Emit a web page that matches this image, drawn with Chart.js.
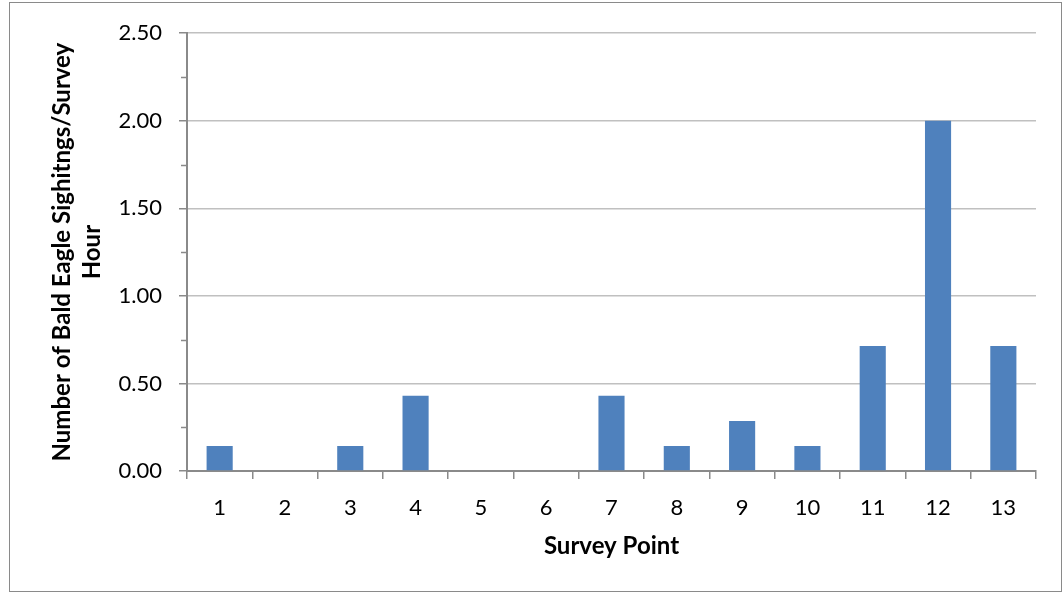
<!DOCTYPE html>
<html>
<head>
<meta charset="utf-8">
<script src="https://cdn.jsdelivr.net/npm/chart.js@4"></script>
<style>
  html, body { margin: 0; padding: 0; background: #fff; }
  #box {
    position: absolute; left: 9px; top: 2px;
    width: 1051px; height: 588px;
    border: 1.5px solid #8a8a8a;
  }
</style>
</head>
<body>
<div id="box"><canvas id="chart"></canvas></div>
<script>
  // Survey points and bald eagle sightings per survey hour
  const surveyPoints = ["1", "2", "3", "4", "5", "6", "7", "8", "9", "10", "11", "12", "13"];
  const sightingsPerHour = [0.143, 0, 0.143, 0.429, 0, 0, 0.429, 0.143, 0.286, 0.143, 0.714, 2.0, 0.714];

  const fontName = "Lato, 'Open Sans', sans-serif";
  const isMajor = v => Math.abs(v * 2 - Math.round(v * 2)) < 1e-6;

  // short minor tick marks at 0.25 steps on the value axis
  const minorTicks = {
    id: "minorTicks",
    afterDraw(chart) {
      const y = chart.scales.y;
      const ctx = chart.ctx;
      ctx.save();
      ctx.strokeStyle = "#8a8a8a";
      ctx.lineWidth = 1.5;
      for (let v = 0.25; v < 2.5; v += 0.5) {
        const py = Math.round(y.getPixelForValue(v)) + 0.5;
        ctx.beginPath();
        ctx.moveTo(y.right - 6, py);
        ctx.lineTo(y.right, py);
        ctx.stroke();
      }
      ctx.restore();
    }
  };

  const ctx = document.getElementById("chart").getContext("2d");
  new Chart(ctx, {
    type: "bar",
    data: {
      labels: surveyPoints,
      datasets: [{
        data: sightingsPerHour,
        backgroundColor: "#4f81bd",
        barPercentage: 0.8,
        categoryPercentage: 0.5
      }]
    },
    options: {
      responsive: true,
      maintainAspectRatio: false,
      animation: false,
      layout: { padding: { top: 28, right: 25, left: 0, bottom: 0 } },
      plugins: { legend: { display: false }, tooltip: { enabled: false } },
      scales: {
        x: {
          offset: true,
          grid: {
            offset: true,
            drawOnChartArea: false,
            color: "#8a8a8a",
            lineWidth: 1.5,
            tickLength: 8
          },
          border: { color: "#8a8a8a", width: 2 },
          ticks: { color: "#000", padding: 16, font: { family: fontName, size: 22 } },
          title: {
            display: true,
            text: "Survey Point",
            color: "#000",
            font: { family: fontName, size: 24, weight: "bold" },
            padding: { top: 0, bottom: 30 }
          },
          afterFit(scale) { scale.height = 120; }
        },
        y: {
          min: 0,
          max: 2.5,
          ticks: {
            stepSize: 0.25,
            autoSkip: false,
            color: "#000",
            padding: 17,
            font: { family: fontName, size: 22 },
            callback: v => isMajor(v) ? v.toFixed(2) : ""
          },
          grid: {
            color: c => isMajor(c.tick.value) && c.tick.value > 0 ? "#c0c0c0" : "rgba(0,0,0,0)",
            tickColor: c => isMajor(c.tick.value) ? "#8a8a8a" : "rgba(0,0,0,0)",
            lineWidth: 1.5,
            tickLength: 8
          },
          border: { color: "#8a8a8a", width: 2 },
          title: {
            display: true,
            text: ["Number of Bald Eagle Sighitngs/Survey", "Hour"],
            color: "#000",
            font: { family: fontName, size: 24, weight: "bold", lineHeight: "30px" },
            padding: { top: 37, bottom: 0 }
          },
          afterFit(scale) { scale.width = 177; }
        }
      }
    },
    plugins: [minorTicks]
  });
</script>
</body>
</html>
